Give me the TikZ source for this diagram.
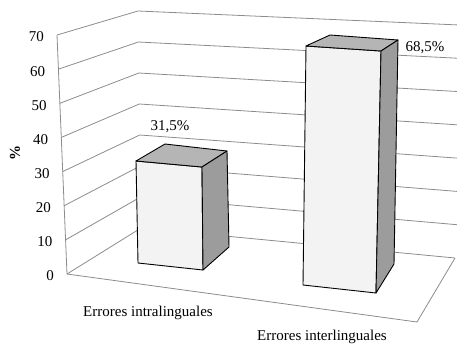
\documentclass[tikz,border=0pt]{standalone}
\usepackage{fontspec}
\setmainfont{Liberation Serif}
\usetikzlibrary{calc}
\definecolor{gridc}{HTML}{8C8C8C}
\definecolor{frontc}{HTML}{F3F3F3}
\definecolor{topc}{HTML}{B5B5B5}
\definecolor{sidec}{HTML}{9C9C9C}
\tikzset{
  gridline/.style={draw=gridc, line width=0.8pt},
  barface/.style={draw=black, line width=0.9pt, line join=round},
  txt/.style={font=\fontsize{15}{18}\selectfont, inner sep=0pt},
}
\begin{document}
\begin{tikzpicture}[x=1pt,y=-1pt]
\useasboundingbox (0,0) rectangle (457,343);
% grid coordinates
\foreach \k in {0,...,7}{
  \coordinate (f\k) at ({67-10*\k/7},{274-34.14*\k});
  \coordinate (b\k) at ({141-3*\k/7},{228-31*\k});
  \coordinate (r\k) at (457,{258-33.3*\k});
}
\coordinate (fr) at (417,322);
\coordinate (br) at (455,258);
% walls grid
\foreach \k in {1,...,7}{
  \draw[gridline] (f\k) -- (b\k) -- (r\k);
}
\draw[gridline] (f0) -- (b0) -- (br);
\draw[gridline] (f0) -- (f7);
\draw[gridline] (f0) -- (fr) -- (br);
% axis labels
\foreach \k/\v in {0/0,1/10,2/20,3/30,4/40,5/50,6/60,7/70}{
  \node[txt, anchor=east] (l\k) at ($(f\k)+(-13,2)$) {\v};
}
\node[txt, font=\fontsize{15}{18}\selectfont\bfseries, rotate=90] (pct) at (15,153) {\%};
% bar 1
\coordinate (a1) at (136,161); \coordinate (a2) at (202,167);
\coordinate (a3) at (203,270); \coordinate (a4) at (138,263);
\coordinate (a5) at (165,144); \coordinate (a6) at (227,151);
\coordinate (a7) at (229,247);
\filldraw[barface, fill=frontc] (a1) -- (a2) -- (a3) -- (a4) -- cycle;
\filldraw[barface, fill=topc] (a1) -- (a5) -- (a6) -- (a2) -- cycle;
\filldraw[barface, fill=sidec] (a2) -- (a6) -- (a7) -- (a3) -- cycle;
% bar 2
\coordinate (c1) at (306,46); \coordinate (c2) at (381,51);
\coordinate (c3) at (376,293); \coordinate (c4) at (303,285);
\coordinate (c5) at (330,35); \coordinate (c6) at (398,40);
\coordinate (c7) at (394,264);
\filldraw[barface, fill=frontc] (c1) -- (c2) -- (c3) -- (c4) -- cycle;
\filldraw[barface, fill=topc] (c1) -- (c5) -- (c6) -- (c2) -- cycle;
\filldraw[barface, fill=sidec] (c2) -- (c6) -- (c7) -- (c3) -- cycle;
% value labels
\node[txt] (v1) at (170,127) {31,5\%};
\node[txt] (v2) at (425,48) {68,5\%};
% category labels
\node[txt] (k1) at (148,313) {Errores intralinguales};
\node[txt] (k2) at (322,337) {Errores interlinguales};
\end{tikzpicture}
\end{document}
